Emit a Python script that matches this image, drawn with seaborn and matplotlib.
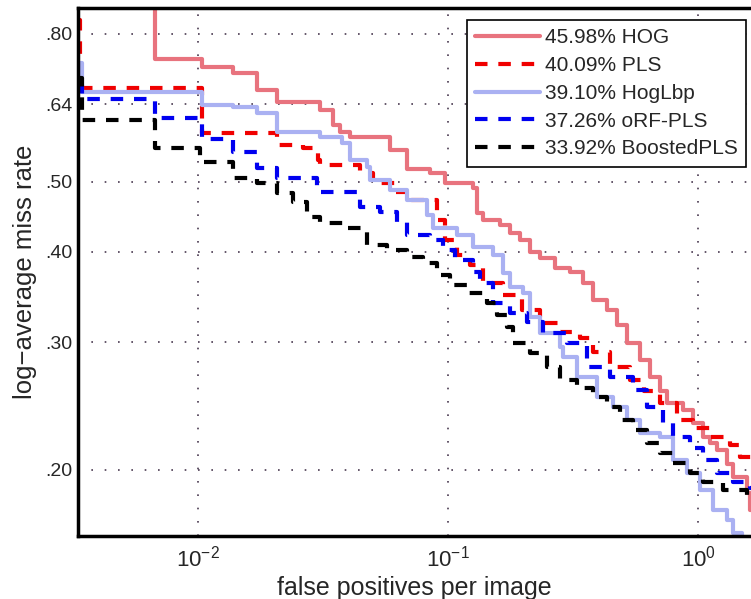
import numpy as np
import matplotlib
matplotlib.use("Agg")
import matplotlib.pyplot as plt
from matplotlib.ticker import FixedLocator, NullLocator, FixedFormatter
import seaborn as sns

# miss rate vs false positives per image (step curves)
hog_fppi = [0.00331, 0.00673, 0.0104, 0.0138, 0.0172, 0.0207, 0.0308, 0.0347, 0.0370, 0.0406,
            0.0586, 0.0686, 0.0847, 0.0973, 0.1259, 0.1306, 0.1380, 0.1614, 0.1770, 0.1941,
            0.2128, 0.2333, 0.2679, 0.3076, 0.3467, 0.3802, 0.4325, 0.4742, 0.5200, 0.5861,
            0.6427, 0.7047, 0.7516, 0.8710, 0.9550, 1.047, 1.117, 1.191, 1.306, 1.380, 1.570,
            1.614, 1.70]
hog_miss = [0.95, 0.738, 0.720, 0.707, 0.669, 0.644, 0.628, 0.599, 0.586, 0.5765,
            0.553, 0.520, 0.514, 0.498, 0.490, 0.4527, 0.4427, 0.4357, 0.4248, 0.4154,
            0.3998, 0.3923, 0.380, 0.3752, 0.3623, 0.3432, 0.3324, 0.317, 0.2994, 0.284,
            0.2687, 0.257, 0.2474, 0.242, 0.2322, 0.2221, 0.218, 0.213, 0.204, 0.1954, 0.1858,
            0.1761, 0.1761]

pls_fppi = [0.00331, 0.00337, 0.0104, 0.0207, 0.0263, 0.0302, 0.0308, 0.0445, 0.0501, 0.0614,
            0.0705, 0.0904, 0.0973, 0.1086, 0.1225, 0.1380, 0.1660, 0.1977, 0.2333, 0.2805,
            0.3373, 0.3802, 0.4446, 0.5346, 0.6100, 0.7047, 0.8241, 0.9550, 1.117, 1.343, 1.472, 1.70]
pls_miss = [0.836, 0.6738, 0.584, 0.562, 0.5566, 0.5358, 0.5274, 0.514, 0.498, 0.484,
            0.4718, 0.4427, 0.4154, 0.396, 0.3836, 0.3623, 0.3487, 0.3324, 0.319, 0.310,
            0.3042, 0.291, 0.2773, 0.2661, 0.257, 0.2474, 0.2344, 0.2285, 0.2221, 0.2165, 0.2083, 0.2083]

hoglbp_fppi = [0.00331, 0.00344, 0.0104, 0.0138, 0.0172, 0.0207, 0.0308, 0.0377, 0.0406, 0.0474,
               0.0488, 0.0586, 0.0686, 0.0824, 0.0871, 0.1086, 0.1259, 0.1514, 0.1660, 0.1770,
               0.1995, 0.2128, 0.2333, 0.2805, 0.2884, 0.3281, 0.3945, 0.4571, 0.5200, 0.5861,
               0.7047, 0.7943, 0.9036, 1.019, 1.148, 1.306, 1.380, 1.50]
hoglbp_miss = [0.7295, 0.665, 0.638, 0.634, 0.622, 0.5857, 0.5765, 0.5655, 0.5358, 0.524,
               0.5028, 0.487, 0.4718, 0.4498, 0.4316, 0.4221, 0.4063, 0.396, 0.374, 0.3578,
               0.351, 0.3251, 0.309, 0.2956, 0.2864, 0.2687, 0.2521, 0.2443, 0.2344, 0.2249,
               0.2221, 0.2063, 0.1979, 0.1876, 0.1761, 0.1706, 0.1637, 0.158]

orf_fppi = [0.00331, 0.00343, 0.00673, 0.0104, 0.0138, 0.0172, 0.0207, 0.0300, 0.0445, 0.0535,
            0.0625, 0.0686, 0.0847, 0.0955, 0.1067, 0.1259, 0.1343, 0.1514, 0.1770, 0.2070,
            0.2399, 0.2992, 0.3597, 0.4446, 0.5495, 0.6252, 0.7244, 0.7943, 0.9290, 1.047,
            1.191, 1.380, 1.614, 1.70]
orf_miss = [0.68, 0.6505, 0.6125, 0.573, 0.5497, 0.5223, 0.506, 0.484, 0.4614, 0.4542,
            0.4399, 0.4221, 0.4154, 0.4024, 0.3898, 0.3752, 0.3623, 0.340, 0.3293, 0.3201,
            0.309, 0.2994, 0.2773, 0.2687, 0.2578, 0.2443, 0.2322, 0.2221, 0.2144, 0.2063,
            0.1979, 0.1924, 0.1887, 0.1887]

boost_fppi = [0.00331, 0.00343, 0.00673, 0.0102, 0.0138, 0.0172, 0.0207, 0.0240, 0.0273, 0.0308,
              0.0394, 0.0474, 0.0570, 0.0686, 0.0794, 0.0904, 0.1019, 0.1191, 0.1432, 0.1570,
              0.1722, 0.1820, 0.2128, 0.2489, 0.2805, 0.3281, 0.3802, 0.4325, 0.4875, 0.5495,
              0.6252, 0.7047, 0.7943, 0.9290, 1.047, 1.259, 1.570, 1.70]
boost_miss = [0.6955, 0.6085, 0.5566, 0.5324, 0.506, 0.498, 0.4824, 0.4689, 0.447, 0.4386,
              0.4316, 0.4089, 0.4024, 0.3936, 0.386, 0.3717, 0.360, 0.351, 0.340, 0.3272,
              0.315, 0.2994, 0.290, 0.2773, 0.2661, 0.2594, 0.2521, 0.2443, 0.2344, 0.227,
              0.2179, 0.211, 0.2044, 0.1979, 0.1924, 0.1876, 0.1847, 0.1847]

labels = ["45.98% HOG", "40.09% PLS", "39.10% HogLbp", "37.26% oRF-PLS", "33.92% BoostedPLS"]
ytick_vals = [0.20, 0.30, 0.40, 0.50, 0.64, 0.80]
ytick_labels = [".20", ".30", ".40", ".50", ".64", ".80"]
xtick_vals = [0.01, 0.1, 1.0]

sns.set_style("white")
plt.rcParams["font.family"] = ["Liberation Sans", "DejaVu Sans"]
plt.rcParams["mathtext.fontset"] = "custom"
plt.rcParams["mathtext.rm"] = "Liberation Sans"
plt.rcParams["mathtext.it"] = "Liberation Sans:italic"

fig = plt.figure(figsize=(7.51, 5.99), dpi=100)
ax = fig.add_axes([0.1039, 0.1052, 0.8961, 0.8815])

series = [
    (hog_fppi, hog_miss, "#e8737e", "-"),
    (pls_fppi, pls_miss, "#f00000", (0, (3.0, 2.6))),
    (hoglbp_fppi, hoglbp_miss, "#aab1f2", "-"),
    (orf_fppi, orf_miss, "#0000f0", (0, (3.0, 2.6))),
    (boost_fppi, boost_miss, "#000000", (0, (3.0, 2.6))),
]
for (fx, my, col, ls), lab in zip(series, labels):
    sns.lineplot(x=fx, y=my, ax=ax, color=col, linestyle=ls, linewidth=3.0,
                 drawstyle="steps-post", label=lab, estimator=None, sort=False)

ax.set_xscale("log")
ax.set_yscale("log")
ax.set_xlim(0.00331, 1.629)
ax.set_ylim(0.162, 0.869)

ax.xaxis.set_major_locator(FixedLocator(xtick_vals))
ax.xaxis.set_minor_locator(NullLocator())
ax.yaxis.set_major_locator(FixedLocator(ytick_vals))
ax.yaxis.set_major_formatter(FixedFormatter(ytick_labels))
ax.yaxis.set_minor_locator(NullLocator())

ax.grid(True, which="major", linestyle=(0, (1, 7)), color="#4a3a50", linewidth=1.2)
ax.tick_params(direction="in", length=7, width=1.2, labelsize=14, pad=4, color="#333333")
ax.tick_params(axis="x", pad=7, labelsize=16)

for side in ["left", "bottom", "top"]:
    ax.spines[side].set_linewidth(2.5)
    ax.spines[side].set_color("black")
ax.spines["right"].set_visible(False)

ax.set_xlabel("false positives per image", fontsize=18, labelpad=3)
ax.set_ylabel("log\u2212average miss rate", fontsize=18.5, labelpad=6)

leg = ax.legend(loc="upper right", bbox_to_anchor=(0.9926, 0.977), fontsize=15,
                handlelength=3.1, handletextpad=0.25, labelspacing=0.42,
                borderpad=0.4, borderaxespad=0.0, fancybox=False, framealpha=1)
leg.get_frame().set_edgecolor("black")
leg.get_frame().set_linewidth(1.2)

fig.savefig("out.png", dpi=100)
